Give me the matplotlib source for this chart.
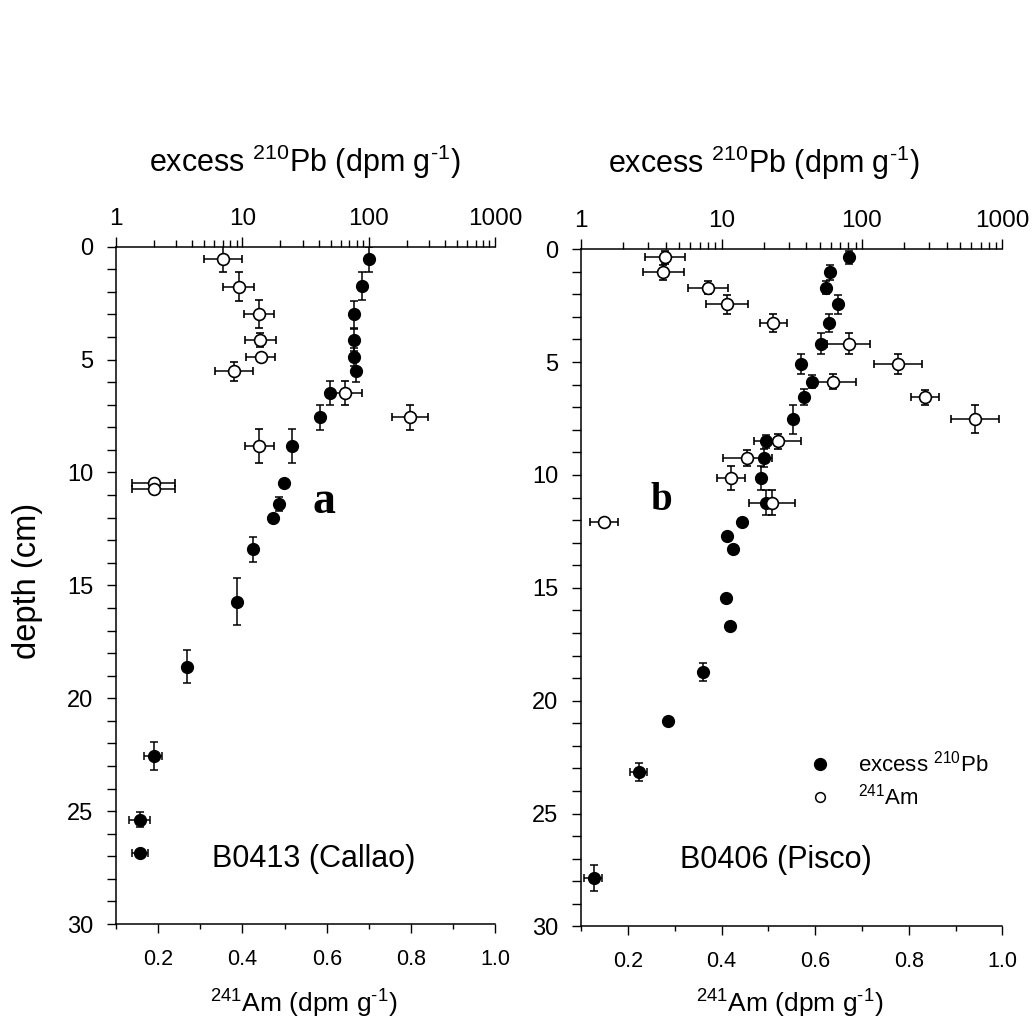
import matplotlib
matplotlib.use('Agg')
import matplotlib.pyplot as plt
from matplotlib.lines import Line2D
from matplotlib.ticker import MultipleLocator, NullFormatter, LogLocator

plt.rcParams['font.family'] = ['Liberation Sans', 'DejaVu Sans']
plt.rcParams['mathtext.fontset'] = 'custom'
plt.rcParams['mathtext.rm'] = 'Liberation Sans'
plt.rcParams['mathtext.it'] = 'Liberation Sans:italic'
plt.rcParams['mathtext.bf'] = 'Liberation Sans:bold'
plt.rcParams['mathtext.default'] = 'regular'

# ---------------- data: core B0413 (Callao) ----------------
a_pb_depth = [0.55, 1.74, 2.99, 4.13, 4.89, 5.52, 6.48, 7.56, 8.83, 10.48, 11.40, 12.03,
              13.40, 15.72, 18.61, 22.56, 25.38, 26.84]
a_pb = [101, 88, 76, 77, 76, 79, 49, 41, 24.5, 21.5, 19.5, 17.3,
        12.2, 9.1, 3.65, 2.0, 1.56, 1.56]
a_pb_err = [0, 0, 0, 0, 0, 0, 0, 0, 0, 0, 0, 0,
            0, 0, 0, 0.32, 0.30, 0.22]
a_pb_depth_err = [0.55, 0.63, 0.60, 0.50, 0.40, 0.48, 0.53, 0.57, 0.74, 0.0, 0.30, 0.0,
                  0.56, 1.03, 0.73, 0.61, 0.33, 0.10]

a_am_depth = [0.55, 1.77, 2.99, 4.13, 4.89, 5.52, 6.48, 7.56, 8.83, 10.45, 10.75]
a_am = [0.355, 0.391, 0.440, 0.442, 0.443, 0.380, 0.643, 0.798, 0.440, 0.189, 0.189]
a_am_err = [0.045, 0.036, 0.036, 0.037, 0.035, 0.045, 0.040, 0.042, 0.035, 0.051, 0.051]
a_am_depth_err = [0.56, 0.64, 0.61, 0.30, 0.0, 0.41, 0.53, 0.56, 0.74, 0.0, 0.0]

# ---------------- data: core B0406 (Pisco) ----------------
b_pb_depth = [0.36, 1.02, 1.70, 2.45, 3.27, 4.18, 5.08, 5.87, 6.56, 7.54, 8.51, 9.24,
              10.15, 11.23, 12.09, 12.69, 13.28, 15.46, 16.70, 18.72, 20.89, 23.15, 27.85]
b_pb = [81, 59, 55, 67, 58.5, 51, 37, 44, 38.5, 32.4, 20.8, 20.1,
        19.2, 20.8, 13.9, 10.9, 12.1, 10.8, 11.5, 7.4, 4.14, 2.6, 1.23]
b_pb_err = [0, 0, 0, 0, 0, 0, 0, 0, 0, 0, 0, 0,
            0, 0, 0, 0, 0, 0, 0, 0, 0.15, 0.36, 0.18]
b_pb_depth_err = [0.30, 0.34, 0.30, 0.40, 0.40, 0.47, 0.44, 0.30, 0.35, 0.65, 0.30, 0.40,
                  0.53, 0.55, 0.0, 0.0, 0.0, 0.0, 0.0, 0.41, 0.0, 0.40, 0.57]

b_am_depth = [0.36, 1.02, 1.70, 2.45, 3.27, 4.18, 5.08, 5.87, 6.56, 7.54, 8.51, 9.24,
              10.15, 11.23, 12.09]
b_am = [0.280, 0.276, 0.371, 0.411, 0.511, 0.672, 0.777, 0.639, 0.835, 0.941, 0.520, 0.455,
        0.420, 0.508, 0.150]
b_am_err = [0.043, 0.043, 0.043, 0.045, 0.028, 0.046, 0.052, 0.048, 0.030, 0.052, 0.050, 0.052,
            0.030, 0.049, 0.030]
b_am_depth_err = [0.30, 0.34, 0.30, 0.40, 0.41, 0.47, 0.43, 0.34, 0.33, 0.62, 0.33, 0.35,
                  0.53, 0.55, 0.15]

pb_ticks = [1, 10, 100, 1000]
pb_ticklabels = ['1', '10', '100', '1000']
am_ticks = [0.2, 0.4, 0.6, 0.8, 1.0]
am_ticklabels = ['0.2', '0.4', '0.6', '0.8', '1.0']
depth_ticks = [0, 5, 10, 15, 20, 25, 30]

top_label = 'excess $^{210}$Pb (dpm g$^{\u2010' + '1}$)'
bottom_label = '$^{241}$Am (dpm g$^{\u2010' + '1}$)'

fig = plt.figure(figsize=(10.32, 10.30), dpi=100)

panels = [
    dict(rect=[0.1124, 0.1029, 0.3675, 0.6576],
         pb_depth=a_pb_depth, pb=a_pb, pb_err=a_pb_err, pb_derr=a_pb_depth_err,
         am_depth=a_am_depth, am=a_am, am_err=a_am_err, am_derr=a_am_depth_err,
         letter='a', letter_size=33, letter_xy=(0.548, 0.607),
         name='B0413 (Callao)', name_xy=(0.522, 0.084),
         top_xy=(0.498, 1.111), bot_xy=(0.496, -0.094), ylabel=True, legend=False),
    dict(rect=[0.5630, 0.1005, 0.4084, 0.6576],
         pb_depth=b_pb_depth, pb=b_pb, pb_err=b_pb_err, pb_derr=b_pb_depth_err,
         am_depth=b_am_depth, am=b_am, am_err=b_am_err, am_derr=b_am_depth_err,
         letter='b', letter_size=28, letter_xy=(0.191, 0.615),
         name='B0406 (Pisco)', name_xy=(0.462, 0.086),
         top_xy=(0.434, 1.112), bot_xy=(0.496, -0.091), ylabel=False, legend=True),
]

ms = 8.5
for p in panels:
    ax = fig.add_axes(p['rect'])
    ax2 = ax.twiny()
    ax.set_zorder(ax2.get_zorder() + 1)
    ax.patch.set_visible(False)

    # excess 210Pb on log top axis
    ax2.errorbar(p['pb'], p['pb_depth'], xerr=p['pb_err'], yerr=p['pb_derr'], fmt='o',
                 ms=ms, mfc='black', mec='black', ecolor='black', elinewidth=1.1,
                 capsize=2.8, capthick=1.1)
    # 241Am on linear bottom axis
    ax.errorbar(p['am'], p['am_depth'], xerr=p['am_err'], yerr=p['am_derr'], fmt='o',
                ms=ms, mfc='white', mec='black', mew=1.2, ecolor='black', elinewidth=1.1,
                capsize=2.8, capthick=1.1)

    ax2.set_xscale('log')
    ax2.set_xlim(1, 1000)
    ax.set_xlim(0.1, 1.0)
    ax.set_ylim(30, 0)

    for sp in ['right', 'top']:
        ax.spines[sp].set_visible(False)
    for sp in ['right', 'bottom', 'left']:
        ax2.spines[sp].set_visible(False)
    for s in ax.spines.values():
        s.set_linewidth(1.1)
    for s in ax2.spines.values():
        s.set_linewidth(1.1)

    ax.set_xticks(am_ticks, am_ticklabels)
    ax.xaxis.set_minor_locator(MultipleLocator(0.1))
    ax.set_yticks(depth_ticks)
    ax.yaxis.set_minor_locator(MultipleLocator(1))
    ax.tick_params(axis='x', which='major', direction='out', length=6.5, width=1.0,
                   labelsize=15.5, pad=11.5)
    ax.tick_params(axis='x', which='minor', direction='out', length=3.6, width=1.0)
    ax.tick_params(axis='y', which='both', direction='out', length=6.5, width=1.0,
                   labelsize=17, pad=10)

    ax2.set_xticks(pb_ticks, pb_ticklabels)
    ax2.xaxis.set_minor_locator(LogLocator(base=10, subs=range(2, 10)))
    ax2.xaxis.set_minor_formatter(NullFormatter())
    ax2.tick_params(axis='x', which='major', direction='out', length=7.2, width=1.0,
                    labelsize=17.5, pad=5)
    ax2.tick_params(axis='x', which='minor', direction='out', length=4.8, width=1.0)

    ax2.set_xlabel(top_label, fontsize=22)
    ax2.xaxis.set_label_coords(*p['top_xy'])
    ax.set_xlabel(bottom_label, fontsize=19)
    ax.xaxis.set_label_coords(*p['bot_xy'])
    if p['ylabel']:
        ax.set_ylabel('depth (cm)', fontsize=23.5)
        ax.yaxis.set_label_coords(-0.192, 0.506)

    ax.text(p['letter_xy'][0], p['letter_xy'][1], p['letter'], transform=ax.transAxes,
            ha='center', va='baseline', fontsize=p['letter_size'], fontweight='bold',
            family=['Liberation Serif', 'DejaVu Serif'])
    ax.text(p['name_xy'][0], p['name_xy'][1], p['name'], transform=ax.transAxes,
            ha='center', va='baseline', fontsize=22)

    if p['legend']:
        handles = [Line2D([], [], ls='none', marker='o', ms=8.5, mfc='black', mec='black'),
                   Line2D([], [], ls='none', marker='o', ms=7, mfc='white', mec='black', mew=1.1)]
        ax.legend(handles, ['excess $^{210}$Pb', '$^{241}$Am'], loc='upper left',
                  bbox_to_anchor=(809 / 1032, 1 - 751 / 1030), bbox_transform=fig.transFigure,
                  frameon=False, fontsize=16, handlelength=1.0, handletextpad=1.2,
                  borderpad=0, borderaxespad=0, labelspacing=0.32)

fig.savefig('out.png', dpi=100)
